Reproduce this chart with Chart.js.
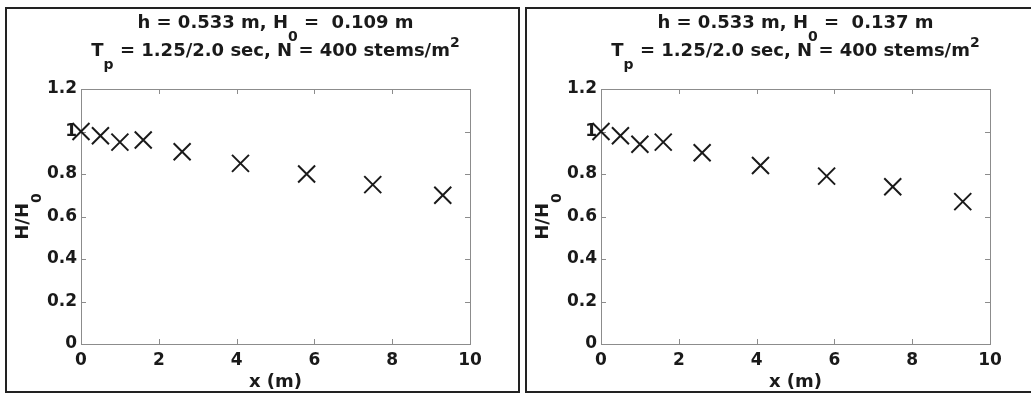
<!DOCTYPE html>
<html>
<head>
<meta charset="utf-8">
<script src="https://cdn.jsdelivr.net/npm/chart.js@4.4.0/dist/chart.umd.min.js"></script>
<style>
    body { margin: 0; background: #fff; width: 1031px; height: 394px; overflow: hidden; position: relative; }
    .panel { position: absolute; top: 7px; width: 515px; height: 386px; border: 2px solid #222; box-sizing: border-box; background: #fff; }
    #panel-a { left: 5px; }
    #panel-b { left: 525px; }
    canvas { display: block; }
</style>
</head>
<body>
<div class="panel" id="panel-a"><canvas id="chart-a" width="511" height="382"></canvas></div>
<div class="panel" id="panel-b"><canvas id="chart-b" width="511" height="382"></canvas></div>
<script>
// distance along the vegetated section (m)
var distance = [0, 0.5, 1.0, 1.6, 2.6, 4.1, 5.8, 7.5, 9.3];
// normalised wave height H/H0 for the two incident waves
var ratioSmall = [1.0, 0.98, 0.95, 0.96, 0.905, 0.85, 0.80, 0.75, 0.70];
var ratioLarge = [1.0, 0.98, 0.94, 0.95, 0.90, 0.84, 0.79, 0.74, 0.67];
var incidentH0 = ["0.109", "0.137"];

var FONT = '"DejaVu Sans", "Liberation Sans", Arial, sans-serif';
var INK = "#1a1a1a";

// draws text pieces with tex-like sub/superscripts, centred on cx
function drawRich(ctx, parts, cx, y, size) {
    var total = 0;
    parts.forEach(function (p) {
        ctx.font = "bold " + (p.s ? size - 4 : size) + "px " + FONT;
        p.w = ctx.measureText(p.t).width;
        total += p.w;
    });
    var x = cx - total / 2;
    parts.forEach(function (p) {
        ctx.font = "bold " + (p.s ? size - 4 : size) + "px " + FONT;
        var dy = p.s === -1 ? 13 : (p.s === 1 ? -9 : 0);
        ctx.fillText(p.t, x, y + dy);
        x += p.w;
    });
}

var frameTicks = {
    id: "frameTicks",
    beforeDatasetsDraw: function (chart) {
        var ctx = chart.ctx, a = chart.chartArea;
        var xs = chart.scales.x, ys = chart.scales.y;
        ctx.save();
        ctx.strokeStyle = "#8c8c8c";
        ctx.lineWidth = 1;
        ctx.strokeRect(Math.round(a.left) + 0.5, Math.round(a.top) + 0.5,
            Math.round(a.right - a.left), Math.round(a.bottom - a.top));
        ctx.beginPath();
        xs.ticks.forEach(function (t) {
            var px = Math.round(xs.getPixelForValue(t.value)) + 0.5;
            ctx.moveTo(px, a.bottom); ctx.lineTo(px, a.bottom - 5);
            ctx.moveTo(px, a.top); ctx.lineTo(px, a.top + 5);
        });
        ys.ticks.forEach(function (t) {
            var py = Math.round(ys.getPixelForValue(t.value)) + 0.5;
            ctx.moveTo(a.left, py); ctx.lineTo(a.left + 5, py);
            ctx.moveTo(a.right, py); ctx.lineTo(a.right - 5, py);
        });
        ctx.stroke();
        ctx.restore();
    }
};

var texTitles = {
    id: "texTitles",
    afterDraw: function (chart, args, opts) {
        var ctx = chart.ctx, a = chart.chartArea;
        var cx = (a.left + a.right) / 2;
        ctx.save();
        ctx.fillStyle = INK;
        ctx.textAlign = "left";
        ctx.textBaseline = "alphabetic";
        drawRich(ctx, [
            { t: "h = 0.533 m, H" }, { t: "0", s: -1 }, { t: " =  " + opts.h0 + " m" }
        ], cx, 18.5, 18);
        drawRich(ctx, [
            { t: "T" }, { t: "p", s: -1 }, { t: " = 1.25/2.0 sec, N = 400 stems/m" }, { t: "2", s: 1 }
        ], cx, 47, 18);
        // rotated y-axis title
        ctx.translate(21, (a.top + a.bottom) / 2);
        ctx.rotate(-Math.PI / 2);
        drawRich(ctx, [{ t: "H/H" }, { t: "0", s: -1 }], 0, 0, 18);
        ctx.restore();
    }
};

function makeChart(id, values, h0) {
    var points = distance.map(function (x, i) { return { x: x, y: values[i] }; });
    return new Chart(document.getElementById(id), {
        type: "scatter",
        data: {
            datasets: [{
                data: points,
                pointStyle: "crossRot",
                pointRadius: 12,
                pointHoverRadius: 12,
                pointBorderWidth: 2,
                pointBorderColor: INK,
                pointBackgroundColor: INK,
                clip: false
            }]
        },
        options: {
            responsive: false,
            animation: false,
            events: [],
            layout: { padding: { left: 14, right: 48, top: 80, bottom: 0 } },
            scales: {
                x: {
                    type: "linear",
                    min: 0, max: 10,
                    grid: { display: false, drawTicks: false },
                    border: { display: false },
                    ticks: { stepSize: 2, padding: 6, color: INK, font: { family: FONT, size: 17, weight: "bold" } },
                    title: { display: true, text: "x (m)", color: INK, padding: 0,
                        font: { family: FONT, size: 18, weight: "bold", lineHeight: 1 } },
                    afterFit: function (s) { s.height = 47; }
                },
                y: {
                    min: 0, max: 1.2,
                    grid: { display: false, drawTicks: false },
                    border: { display: false },
                    ticks: {
                        stepSize: 0.2, padding: 4, color: INK,
                        font: { family: FONT, size: 17, weight: "bold" },
                        callback: function (v) { return String(Number(v.toFixed(1))); }
                    },
                    afterFit: function (s) { s.width = 60; }
                }
            },
            plugins: {
                legend: { display: false },
                tooltip: { enabled: false },
                texTitles: { h0: h0 }
            }
        },
        plugins: [frameTicks, texTitles]
    });
}

makeChart("chart-a", ratioSmall, incidentH0[0]);
makeChart("chart-b", ratioLarge, incidentH0[1]);
</script>
</body>
</html>
